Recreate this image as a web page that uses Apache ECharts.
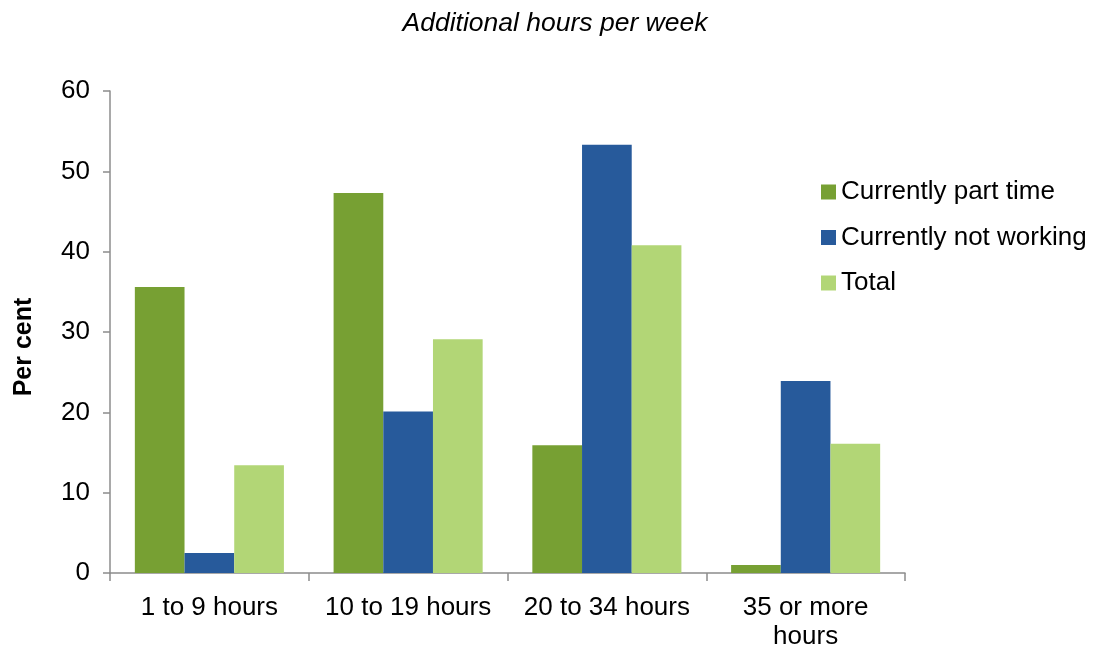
<!DOCTYPE html>
<html>
<head>
<meta charset="utf-8">
<script src="https://cdn.jsdelivr.net/npm/echarts@6/dist/echarts.min.js"></script>
<style>
html,body{margin:0;padding:0;background:#fff;}
#c{width:1097px;height:647px;}
</style>
</head>
<body>
<div id="c"></div>
<script>
const categories = ["1 to 9 hours", "10 to 19 hours", "20 to 34 hours", "35 or more\nhours"];
const partTime = [35.6, 47.3, 15.9, 1.0];
const notWorking = [2.5, 20.1, 53.3, 23.9];
const total = [13.4, 29.1, 40.8, 16.1];
const yTicks = [0, 10, 20, 30, 40, 50, 60];

const chart = echarts.init(document.getElementById('c'), null, {renderer: 'canvas'});
const font = "'Liberation Sans', Arial, sans-serif";
chart.setOption({
  animation: false,
  backgroundColor: '#ffffff',
  title: {
    text: 'Additional hours per week',
    left: 550, top: 5, textAlign: 'center',
    textStyle: {fontFamily: font, fontStyle: 'italic', fontWeight: 'normal', fontSize: 26.5, color: '#000'}
  },
  legend: {
    orient: 'vertical',
    left: 816, top: 174,
    itemWidth: 15, itemHeight: 15, itemGap: 19.5,
    icon: 'rect',
    textStyle: {fontFamily: font, fontSize: 26, color: '#000'},
    data: ['Currently part time', 'Currently not working', 'Total']
  },
  grid: {left: 110, right: 192, top: 91, bottom: 74, containLabel: false, outerBoundsMode: 'none'},
  xAxis: {
    type: 'category',
    data: categories,
    boundaryGap: true,
    axisLine: {show: true, lineStyle: {color: '#8c8c8c', width: 1.5}},
    axisTick: {show: true, length: 8, alignWithLabel: false, lineStyle: {color: '#8c8c8c', width: 1.5}},
    axisLabel: {fontFamily: font, fontSize: 26, color: '#000', margin: 20, lineHeight: 29, interval: 0}
  },
  yAxis: {
    type: 'value',
    min: yTicks[0], max: yTicks[yTicks.length-1], interval: 10,
    name: 'Per cent',
    nameLocation: 'middle',
    nameGap: 73,
    nameRotate: 90,
    nameTextStyle: {fontFamily: font, fontSize: 25, fontWeight: 'bold', color: '#000', padding: [0,30,0,0]},
    axisLine: {show: true, lineStyle: {color: '#8c8c8c', width: 1.5}},
    axisTick: {show: true, length: 7, lineStyle: {color: '#8c8c8c', width: 1.5}},
    splitLine: {show: false},
    axisLabel: {fontFamily: font, fontSize: 26, color: '#000', margin: 20}
  },
  series: [
    {name: 'Currently part time', type: 'bar', data: partTime, itemStyle: {color: '#77a033'}, barGap: '0%', barCategoryGap: '25%'},
    {name: 'Currently not working', type: 'bar', data: notWorking, itemStyle: {color: '#275a9b'}},
    {name: 'Total', type: 'bar', data: total, itemStyle: {color: '#b2d676'}}
  ]
});
</script>
</body>
</html>
